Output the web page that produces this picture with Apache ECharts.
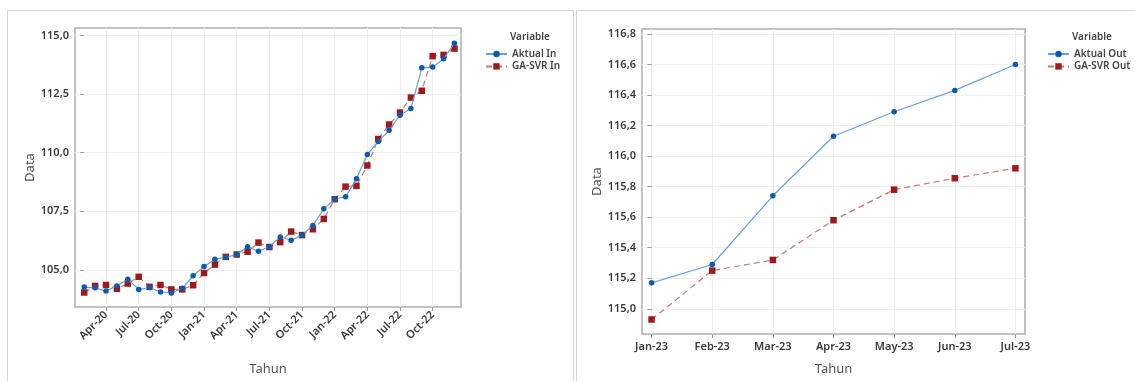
<!DOCTYPE html>
<html>
<head>
<meta charset="utf-8">
<script src="https://cdn.jsdelivr.net/npm/echarts@6/dist/echarts.min.js"></script>
<style>
  html, body { margin: 0; padding: 0; background: #ffffff; }
  #chart { width: 1135px; height: 381px; }
</style>
</head>
<body>
<div id="chart"></div>
<script>
// ---------- Left chart data (monthly, Feb-20 .. Dec-22) ----------
const monthsIn = [
  'Feb-20','Mar-20','Apr-20','May-20','Jun-20','Jul-20','Aug-20','Sep-20','Oct-20','Nov-20','Dec-20',
  'Jan-21','Feb-21','Mar-21','Apr-21','May-21','Jun-21','Jul-21','Aug-21','Sep-21','Oct-21','Nov-21','Dec-21',
  'Jan-22','Feb-22','Mar-22','Apr-22','May-22','Jun-22','Jul-22','Aug-22','Sep-22','Oct-22','Nov-22','Dec-22'
];
const aktualIn = [
  104.26, 104.23, 104.09, 104.31, 104.59, 104.16, 104.24, 104.05, 104.01, 104.21, 104.74,
  105.14, 105.45, 105.53, 105.65, 105.98, 105.79, 105.98, 106.40, 106.26, 106.48, 106.89, 107.60,
  108.01, 108.12, 108.88, 109.92, 110.47, 110.95, 111.60, 111.88, 113.62, 113.65, 114.01, 114.67
];
const gaSvrIn = [
  104.03, 104.31, 104.35, 104.19, 104.41, 104.70, 104.27, 104.35, 104.16, 104.16, 104.34,
  104.86, 105.22, 105.55, 105.65, 105.77, 106.16, 105.97, 106.18, 106.63, 106.48, 106.73, 107.17,
  108.01, 108.55, 108.58, 109.45, 110.58, 111.20, 111.71, 112.35, 112.64, 114.12, 114.17, 114.44
];
const tickLabelsIn = ['Apr-20','Jul-20','Oct-20','Jan-21','Apr-21','Jul-21','Oct-21','Jan-22','Apr-22','Jul-22','Oct-22'];
const yTicksIn = [105.0, 107.5, 110.0, 112.5, 115.0];

// ---------- Right chart data (Jan-23 .. Jul-23) ----------
const monthsOut = ['Jan-23','Feb-23','Mar-23','Apr-23','May-23','Jun-23','Jul-23'];
const aktualOut = [115.17, 115.29, 115.74, 116.13, 116.29, 116.43, 116.60];
const gaSvrOut  = [114.93, 115.25, 115.32, 115.58, 115.78, 115.855, 115.92];
const yTicksOut = [115.0, 115.2, 115.4, 115.6, 115.8, 116.0, 116.2, 116.4, 116.6, 116.8];

// ---------- Styling ----------
const FONT = 'Noto Sans';
const BLUE_MK = '#0b5aab', BLUE_LN = '#6a9fd9';
const RED_MK = '#9e1a1a', RED_LN = '#cd7272';
const fmtComma = v => Number(v).toFixed(1).replace('.', ',');

const tickIdxIn = tickLabelsIn.map(l => monthsIn.indexOf(l));
const tickIdxOut = monthsOut.map((m, i) => i);

const chart = echarts.init(document.getElementById('chart'), null, { renderer: 'canvas' });

const axisLabelStyle = { color: '#3a3a3a', fontFamily: FONT, fontSize: 11, fontWeight: 600 };
const nameStyle = { color: '#555555', fontFamily: FONT, fontSize: 13 };
const splitLine = { show: true, lineStyle: { color: '#efefef', width: 1 } };
const tick = { show: true, length: 4, lineStyle: { color: '#9a9a9a' } };

function blueSeries(name, xi, data) {
  return {
    name, type: 'line', xAxisIndex: xi, yAxisIndex: xi, data,
    symbol: 'circle', symbolSize: 5.5,
    itemStyle: { color: BLUE_MK },
    lineStyle: { color: BLUE_LN, width: 1.2, type: 'solid' },
    emphasis: { disabled: true }, animation: false, z: 3
  };
}
function redSeries(name, xi, data) {
  return {
    name, type: 'line', xAxisIndex: xi, yAxisIndex: xi, data,
    symbol: 'rect', symbolSize: 6.5,
    itemStyle: { color: RED_MK },
    lineStyle: { color: RED_LN, width: 1.2, type: [6, 4] },
    emphasis: { disabled: true }, animation: false, z: 2
  };
}

const legendText = { color: '#444', fontFamily: FONT, fontSize: 10, fontWeight: 600, lineHeight: 12 };

const option = {
  backgroundColor: '#ffffff',
  animation: false,
  graphic: [
    { type: 'rect', shape: { x: 7.5, y: 10.5, width: 566, height: 390 }, style: { fill: 'none', stroke: '#d4d4d4', lineWidth: 1 }, silent: true },
    { type: 'rect', shape: { x: 576.5, y: 10.5, width: 570, height: 390 }, style: { fill: 'none', stroke: '#d4d4d4', lineWidth: 1 }, silent: true },
    { type: 'text', left: 510, top: 32, style: { text: 'Variable', fill: '#444', font: '600 10px "Noto Sans"' }, silent: true },
    { type: 'text', left: 1072, top: 32, style: { text: 'Variable', fill: '#444', font: '600 10px "Noto Sans"' }, silent: true }
  ],
  legend: [
    {
      data: ['Aktual In', 'GA-SVR In'], orient: 'vertical', left: 480, top: 43,
      itemWidth: 21, itemHeight: 8, itemGap: 0.4, textStyle: legendText, selectedMode: false
    },
    {
      data: ['Aktual Out', 'GA-SVR Out'], orient: 'vertical', left: 1042, top: 43,
      itemWidth: 21, itemHeight: 8, itemGap: 0.4, textStyle: legendText, selectedMode: false
    }
  ],
  grid: [
    { left: 75, top: 28, width: 386, height: 287, show: true, borderColor: '#c2c2c2', borderWidth: 2, backgroundColor: 'transparent' },
    { left: 642, top: 29, width: 383, height: 312, show: true, borderColor: '#c2c2c2', borderWidth: 2, backgroundColor: 'transparent' }
  ],
  xAxis: [
    {
      gridIndex: 0, type: 'value', min: -0.85, max: 34.6,
      name: 'Tahun', nameLocation: 'middle', nameGap: 56, nameTextStyle: nameStyle,
      axisLine: { show: false },
      axisTick: Object.assign({ customValues: tickIdxIn }, tick),
      axisLabel: Object.assign({ customValues: tickIdxIn, rotate: 45, margin: 6,
        formatter: v => monthsIn[Math.round(v)] }, axisLabelStyle),
      splitLine: splitLine
    },
    {
      gridIndex: 1, type: 'value', min: -0.158, max: 6.158,
      name: 'Tahun', nameLocation: 'middle', nameGap: 29, nameTextStyle: nameStyle,
      axisLine: { show: false },
      axisTick: Object.assign({ customValues: tickIdxOut }, tick),
      axisLabel: Object.assign({ customValues: tickIdxOut, margin: 7,
        formatter: v => monthsOut[Math.round(v)] }, axisLabelStyle),
      splitLine: splitLine
    }
  ],
  yAxis: [
    {
      gridIndex: 0, type: 'value', min: 103.41, max: 115.32,
      name: 'Data', nameLocation: 'middle', nameGap: 37, nameTextStyle: nameStyle,
      axisLine: { show: false },
      axisTick: Object.assign({ customValues: yTicksIn }, tick),
      axisLabel: Object.assign({ customValues: yTicksIn, margin: 6, formatter: fmtComma }, axisLabelStyle),
      splitLine: splitLine
    },
    {
      gridIndex: 1, type: 'value', min: 114.835, max: 116.832,
      name: 'Data', nameLocation: 'middle', nameGap: 34, nameTextStyle: nameStyle,
      axisLine: { show: false },
      axisTick: Object.assign({ customValues: yTicksOut }, tick),
      axisLabel: Object.assign({ customValues: yTicksOut, margin: 6, formatter: fmtComma }, axisLabelStyle),
      splitLine: splitLine
    }
  ],
  series: [
    blueSeries('Aktual In', 0, aktualIn.map((v, i) => [i, v])),
    redSeries('GA-SVR In', 0, gaSvrIn.map((v, i) => [i, v])),
    blueSeries('Aktual Out', 1, aktualOut.map((v, i) => [i, v])),
    redSeries('GA-SVR Out', 1, gaSvrOut.map((v, i) => [i, v]))
  ]
};

chart.setOption(option);
</script>
</body>
</html>
